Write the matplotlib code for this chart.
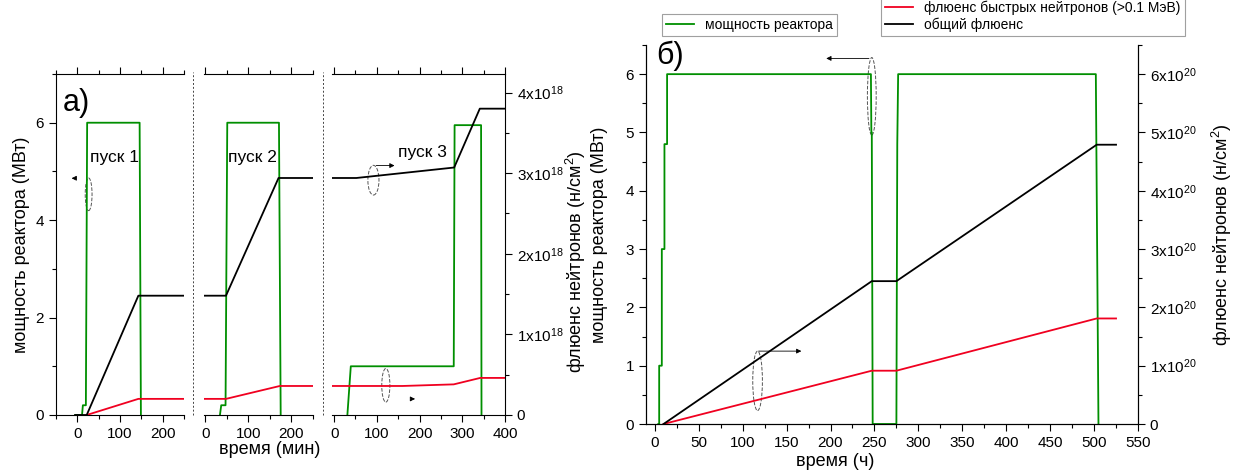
import matplotlib
matplotlib.use("Agg")
import matplotlib.pyplot as plt
from matplotlib.patches import Ellipse
from matplotlib.lines import Line2D
from matplotlib.ticker import MultipleLocator, FuncFormatter

plt.rcParams['font.family'] = ['Liberation Sans', 'DejaVu Sans']
plt.rcParams['mathtext.fontset'] = 'custom'
plt.rcParams['mathtext.rm'] = 'Liberation Sans'
plt.rcParams['mathtext.it'] = 'Liberation Sans:italic'
plt.rcParams['mathtext.bf'] = 'Liberation Sans:bold'

GREEN = '#008f00'
RED = '#f00020'

# ---- panel a) : three runs, time in minutes, fluence in 1e18 n/cm2
a1_t_pow = [-5, 11, 13, 20, 23, 146, 149]
a1_pow = [0, 0, 0.2, 0.2, 6.0, 6.0, 0]
a1_t_total = [-5, 22, 143, 250]
a1_total = [0, 0, 1.48, 1.48]
a1_t_fast = [22, 143, 250]
a1_fast = [0, 0.2, 0.2]

a2_t_pow = [34, 37, 47, 51, 171, 175]
a2_pow = [0, 0.2, 0.2, 6.0, 6.0, 0]
a2_t_total = [-3, 48, 170, 250]
a2_total = [1.48, 1.48, 2.94, 2.94]
a2_t_fast = [-3, 48, 173, 250]
a2_fast = [0.2, 0.2, 0.36, 0.36]

a3_t_pow = [31, 39, 280, 282, 344, 345]
a3_pow = [0, 1.0, 1.0, 5.95, 5.95, 0]
a3_t_total = [-5, 52, 281, 341, 400]
a3_total = [2.94, 2.94, 3.07, 3.80, 3.80]
a3_t_fast = [-5, 160, 280, 342, 400]
a3_fast = [0.36, 0.36, 0.38, 0.46, 0.46]

# ---- panel b) : time in hours, fluence in 1e20 n/cm2
b_t_pow = [4, 5, 5, 8, 8, 11, 11, 14, 14, 246, 246.5, 247, 248, 275, 276, 276, 277, 502, 505]
b_pow = [0, 0, 1, 1, 3, 3, 4.8, 4.8, 6, 6, 5.0, 5.0, 0, 0, 4.8, 4.8, 6, 6, 0]
b_t_flu = [10, 247, 275, 503, 525]
b_total = [0, 2.45, 2.45, 4.79, 4.79]
b_fast = [0, 0.914, 0.914, 1.81, 1.81]

W, H = 1238, 470
fig = plt.figure(figsize=(W / 100, H / 100), dpi=100)


def px_axes(x0, y0, x1, y1):
    return fig.add_axes([x0 / W, 1 - y1 / H, (x1 - x0) / W, (y1 - y0) / H])


def sci_fmt(power):
    def f(v, pos):
        if abs(v) < 1e-9:
            return '0'
        return '%gx10$^{%d}$' % (v, power)
    return FuncFormatter(f)


def style_ticks(ax):
    ax.tick_params(which='major', length=5, width=0.8, labelsize=11)
    ax.tick_params(which='minor', length=3, width=0.8)


# panel a layout
subs = [
    ((56, 74, 184, 415), (-50, 250), a1_t_pow, a1_pow, a1_t_total, a1_total, a1_t_fast, a1_fast),
    ((204, 74, 313, 415), (-3, 250), a2_t_pow, a2_pow, a2_t_total, a2_total, a2_t_fast, a2_fast),
    ((332, 74, 505, 415), (-5, 400), a3_t_pow, a3_pow, a3_t_total, a3_total, a3_t_fast, a3_fast),
]
a_axes = []
for i, (box, xl, tp, p, tt, tot, tf, fa) in enumerate(subs):
    ax = px_axes(*box)
    ax.patch.set_alpha(0)
    ax2 = ax.twinx()
    ax.plot(tp, p, color=GREEN, lw=1.3)
    ax2.plot(tf, fa, color=RED, lw=1.3)
    ax2.plot(tt, tot, color='k', lw=1.3)
    ax.set_xlim(*xl)
    ax.set_ylim(0, 7)
    ax2.set_ylim(0, 4.23)
    ax.xaxis.set_major_locator(MultipleLocator(100))
    ax.xaxis.set_minor_locator(MultipleLocator(50))
    ax.yaxis.set_major_locator(MultipleLocator(2))
    ax.yaxis.set_minor_locator(MultipleLocator(1))
    ax2.yaxis.set_major_locator(MultipleLocator(1))
    ax2.yaxis.set_minor_locator(MultipleLocator(0.5))
    ax2.yaxis.set_major_formatter(sci_fmt(18))
    for a in (ax, ax2):
        style_ticks(a)
        for s in ('right', 'left', 'top', 'bottom'):
            a.spines[s].set_visible(False)
    ax.spines['bottom'].set_visible(True)
    ax.spines['top'].set_visible(True)
    ax.tick_params(axis='x', which='both', top=True)
    if i == 0:
        ax.spines['left'].set_visible(True)
    else:
        ax.tick_params(axis='y', which='both', left=False, labelleft=False)
    if i == 2:
        ax2.spines['right'].set_visible(True)
    else:
        ax2.tick_params(axis='y', which='both', right=False, labelright=False)
    a_axes.append(ax)

ax1, ax2_, ax3 = a_axes

# dashed ellipses and small arrows
ax1.add_patch(Ellipse((26.5, 4.53), 16, 0.67, fill=False, ls='--', lw=0.7, ec='#555555', clip_on=False))
ax1.annotate('', xy=(-20, 4.86), xytext=(-2, 4.86),
             arrowprops=dict(arrowstyle='-|>', color='k', lw=0.6, mutation_scale=7))
ax3.add_patch(Ellipse((92, 4.82), 26, 0.61, fill=False, ls='--', lw=0.7, ec='#555555'))
ax3.annotate('', xy=(148, 5.12), xytext=(92, 5.12),
             arrowprops=dict(arrowstyle='-|>', color='k', lw=0.6, mutation_scale=7))
ax3.add_patch(Ellipse((121, 0.61), 19, 0.69, fill=False, ls='--', lw=0.7, ec='#555555'))
ax3.annotate('', xy=(196, 0.33), xytext=(174, 0.33),
             arrowprops=dict(arrowstyle='-|>', color='k', lw=0.6, mutation_scale=7))

for xpx in (193, 323):
    fig.add_artist(Line2D([xpx / W, xpx / W], [1 - 415 / H, 1 - 72 / H], transform=fig.transFigure,
                          ls=(0, (2, 2)), color='#444444', lw=0.7))

fig.text(63 / W, 1 - 103 / H, 'a)', fontsize=22, va='center', ha='left')
fig.text(114 / W, 1 - 158 / H, 'пуск 1', fontsize=12.5, va='center', ha='center')
fig.text(252 / W, 1 - 158 / H, 'пуск 2', fontsize=12.5, va='center', ha='center')
fig.text(422 / W, 1 - 152 / H, 'пуск 3', fontsize=12.5, va='center', ha='center')
fig.text(22 / W, 1 - 245 / H, 'мощность реактора (МВт)', rotation=90, fontsize=13, va='center', ha='center')
fig.text(576 / W, 1 - 262 / H, 'флюенс нейтронов (н/см$^2$)', rotation=90, fontsize=13, va='center', ha='center')
fig.text(270 / W, 1 - 450 / H, 'время (мин)', fontsize=13, va='center', ha='center')

# panel b
axb = px_axes(646, 45, 1138, 424)
axb.patch.set_alpha(0)
axb2 = axb.twinx()
l_pow, = axb.plot(b_t_pow, b_pow, color=GREEN, lw=1.3)
l_fast, = axb2.plot(b_t_flu, b_fast, color=RED, lw=1.3)
l_tot, = axb2.plot(b_t_flu, b_total, color='k', lw=1.3)
axb.set_xlim(-10, 550)
axb.set_ylim(0, 6.5)
axb2.set_ylim(0, 6.5)
axb.xaxis.set_major_locator(MultipleLocator(50))
axb.xaxis.set_minor_locator(MultipleLocator(25))
axb.yaxis.set_major_locator(MultipleLocator(1))
axb.yaxis.set_minor_locator(MultipleLocator(0.5))
axb2.yaxis.set_major_locator(MultipleLocator(1))
axb2.yaxis.set_minor_locator(MultipleLocator(0.5))
axb2.yaxis.set_major_formatter(sci_fmt(20))
for a in (axb, axb2):
    style_ticks(a)
    a.spines['top'].set_visible(False)

axb.add_patch(Ellipse((247, 5.62), 10, 1.33, fill=False, ls='--', lw=0.7, ec='#555555'))
axb.annotate('', xy=(192, 6.27), xytext=(247, 6.27),
             arrowprops=dict(arrowstyle='-|>', color='k', lw=0.6, mutation_scale=7))
axb.add_patch(Ellipse((117, 0.74), 11, 1.02, fill=False, ls='--', lw=0.7, ec='#555555'))
axb.annotate('', xy=(170, 1.25), xytext=(115, 1.25),
             arrowprops=dict(arrowstyle='-|>', color='k', lw=0.6, mutation_scale=7))

fig.text(656 / W, 1 - 56 / H, 'б)', fontsize=22, va='center', ha='left')
fig.text(600 / W, 1 - 235 / H, 'мощность реактора (МВт)', rotation=90, fontsize=13, va='center', ha='center')
fig.text(1222 / W, 1 - 235 / H, 'флюенс нейтронов (н/см$^2$)', rotation=90, fontsize=13, va='center', ha='center')
fig.text(835 / W, 1 - 461 / H, 'время (ч)', fontsize=13, va='center', ha='center')

leg1 = fig.legend([l_pow], ['мощность реактора'], loc='upper left',
                  bbox_to_anchor=(655 / W, 1 - 7 / H), fontsize=10, frameon=True, fancybox=False,
                  handlelength=2.0, borderpad=0.3, edgecolor='#888888')
leg2 = fig.legend([l_fast, l_tot], ['флюенс быстрых нейтронов (>0.1 МэВ)', 'общий флюенс'],
                  loc='lower left', bbox_to_anchor=(874 / W, 1 - 43 / H), fontsize=10, frameon=True,
                  fancybox=False, handlelength=2.0, borderpad=0.3, labelspacing=0.2, edgecolor='#888888')
for lg in (leg1, leg2):
    lg.get_frame().set_linewidth(0.8)

fig.savefig('out.png', dpi=100)
